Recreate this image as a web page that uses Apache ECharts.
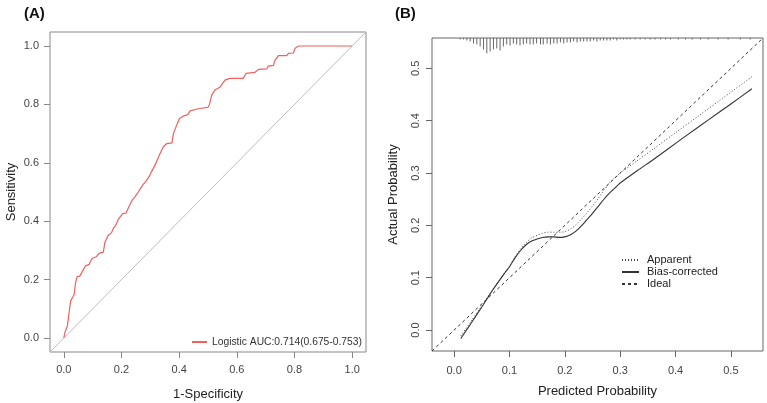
<!DOCTYPE html>
<html>
<head>
<meta charset="utf-8">
<script src="https://cdn.jsdelivr.net/npm/echarts@6/dist/echarts.min.js"></script>
<style>
html,body{margin:0;padding:0;background:#fff;}
#main{width:767px;height:403px;}
</style>
</head>
<body>
<div id="main"></div>
<script>
// (A) ROC curve, [1-specificity, sensitivity]
let roc_points = [
  [0,0],[0.004,0.02],[0.012,0.04],[0.016,0.07],[0.02,0.10],[0.024,0.128],[0.032,0.142],[0.036,0.15],
  [0.04,0.185],[0.046,0.21],[0.055,0.212],[0.061,0.222],[0.068,0.235],[0.075,0.247],[0.088,0.252],
  [0.092,0.262],[0.098,0.272],[0.112,0.278],[0.122,0.29],[0.137,0.294],[0.142,0.326],[0.154,0.352],
  [0.165,0.36],[0.172,0.376],[0.18,0.386],[0.19,0.408],[0.204,0.426],[0.216,0.428],[0.226,0.45],
  [0.237,0.472],[0.248,0.485],[0.258,0.5],[0.272,0.522],[0.287,0.54],[0.297,0.555],[0.304,0.569],
  [0.316,0.592],[0.331,0.626],[0.345,0.655],[0.357,0.666],[0.375,0.668],[0.38,0.70],[0.389,0.723],
  [0.401,0.752],[0.414,0.76],[0.43,0.765],[0.438,0.778],[0.47,0.786],[0.50,0.79],[0.505,0.80],
  [0.513,0.832],[0.524,0.849],[0.542,0.86],[0.559,0.883],[0.576,0.889],[0.622,0.889],[0.632,0.906],
  [0.663,0.910],[0.675,0.92],[0.704,0.922],[0.709,0.931],[0.727,0.934],[0.733,0.952],[0.744,0.967],
  [0.773,0.967],[0.779,0.975],[0.796,0.976],[0.802,0.992],[0.814,1.0],[1.0,1.0]
];
let roc_name = 'Logistic AUC:0.714(0.675-0.753)';
let roc_ticks = [0, 0.2, 0.4, 0.6, 0.8, 1.0];
let roc_range = [-0.048, 1.048];

// (B) calibration curves, [predicted, actual]
let apparent = [
  [0.012,-0.011],[0.03,0.016],[0.05,0.047],[0.07,0.078],[0.09,0.108],[0.10,0.122],[0.11,0.140],
  [0.12,0.155],[0.13,0.167],[0.14,0.176],[0.15,0.181],[0.16,0.185],[0.17,0.187],[0.18,0.187],
  [0.19,0.187],[0.20,0.188],[0.21,0.193],[0.22,0.201],[0.23,0.212],[0.24,0.224],[0.25,0.237],
  [0.26,0.251],[0.27,0.266],[0.28,0.280],[0.29,0.291],[0.30,0.300],[0.33,0.323],[0.36,0.346],
  [0.40,0.377],[0.44,0.408],[0.48,0.439],[0.538,0.484]
];
let bias_corrected = [
  [0.012,-0.016],[0.03,0.012],[0.05,0.044],[0.07,0.077],[0.09,0.107],[0.10,0.121],[0.11,0.138],
  [0.12,0.152],[0.13,0.163],[0.14,0.170],[0.15,0.174],[0.16,0.177],[0.17,0.178],[0.18,0.178],
  [0.19,0.177],[0.20,0.178],[0.21,0.182],[0.22,0.189],[0.23,0.199],[0.24,0.211],[0.25,0.223],
  [0.26,0.236],[0.27,0.249],[0.28,0.261],[0.29,0.271],[0.30,0.281],[0.33,0.304],[0.36,0.326],
  [0.385,0.345],[0.42,0.372],[0.46,0.402],[0.50,0.432],[0.538,0.461]
];
// rug of predicted probabilities: [x, relative frequency]
let rug = [
  [0.011,1],[0.017,1],[0.023,2],[0.029,3],[0.035,5],[0.041,6],[0.047,8],[0.053,11],[0.059,15],
  [0.065,13],[0.071,11],[0.077,10],[0.083,12],[0.089,8],[0.095,6],[0.101,7],[0.107,5],[0.113,6],
  [0.119,7],[0.125,6],[0.131,5],[0.137,6],[0.143,6],[0.149,5],[0.156,6],[0.161,6],[0.168,5],
  [0.174,6],[0.180,5],[0.186,5],[0.192,4],[0.198,5],[0.204,4],[0.210,4],[0.216,3],[0.222,4],
  [0.228,3],[0.234,3],[0.240,3],[0.246,3],[0.252,2],[0.258,3],[0.264,2],[0.270,2],[0.276,2],
  [0.282,2],[0.288,1],[0.294,2],[0.300,1],[0.306,1],[0.312,1],[0.318,1],[0.327,1],[0.336,1],
  [0.345,1],[0.354,1],[0.363,1],[0.373,1],[0.382,1],[0.391,1],[0.405,1],[0.418,1],[0.430,1],
  [0.445,1],[0.459,1],[0.477,1],[0.495,1],[0.517,1],[0.535,1]
];
let cal_ticks = [0, 0.1, 0.2, 0.3, 0.4, 0.5];
let cal_range = [-0.04, 0.558];

const font = 'Liberation Sans, Arial, sans-serif';
const rugScale = 0.0019;

function axisBase(ticks, range, color, margin) {
  return {
    type: 'value',
    min: range[0],
    max: range[1],
    splitLine: { show: false },
    axisLine: { show: false, onZero: false },
    axisTick: { show: true, inside: false, length: 6, customValues: ticks, lineStyle: { color: color } },
    axisLabel: { customValues: ticks, color: '#444', fontSize: 11, fontFamily: font, margin: margin,
      formatter: v => v.toFixed(1) },
    nameLocation: 'middle',
    nameTextStyle: { color: '#222', fontSize: 13, fontFamily: font }
  };
}

const noSymbol = { color: 'rgba(0,0,0,0)', borderColor: 'rgba(0,0,0,0)', borderWidth: 0 };

let chart = echarts.init(document.getElementById('main'));
let option = {
  animation: false,
  title: [
    { text: '(A)', left: 19, top: 1, textStyle: { fontSize: 15, fontWeight: 'bold', color: '#111', fontFamily: font } },
    { text: '(B)', left: 390, top: 1, textStyle: { fontSize: 15, fontWeight: 'bold', color: '#111', fontFamily: font } }
  ],
  grid: [
    { left: 50, top: 32, width: 316, height: 320, show: true, borderColor: '#888', borderWidth: 1, outerBoundsMode: 'none' },
    { left: 432, top: 38, width: 331, height: 313, show: true, borderColor: '#666', borderWidth: 1, outerBoundsMode: 'none' }
  ],
  xAxis: [
    Object.assign(axisBase(roc_ticks, roc_range, '#888', 12), { gridIndex: 0, name: '1-Specificity', nameGap: 36 }),
    Object.assign(axisBase(cal_ticks, cal_range, '#666', 14), { gridIndex: 1, name: 'Predicted Probability', nameGap: 34 })
  ],
  yAxis: [
    Object.assign(axisBase(roc_ticks, roc_range, '#888', 11), { gridIndex: 0, name: 'Sensitivity', nameGap: 32 }),
    (function () {
      let a = Object.assign(axisBase(cal_ticks, cal_range, '#666', 11), { gridIndex: 1, name: 'Actual Probability', nameGap: 32 });
      a.axisLabel.rotate = 90;
      return a;
    })()
  ],
  legend: [
    {
      data: [roc_name], left: 186, top: 332, itemWidth: 15, itemHeight: 10, itemGap: 0,
      itemStyle: noSymbol,
      textStyle: { color: '#333', fontSize: 10.3, fontFamily: font }
    },
    {
      data: ['Apparent', 'Bias-corrected', 'Ideal'], orient: 'vertical', left: 616, top: 249,
      itemWidth: 17, itemHeight: 10, itemGap: 0,
      itemStyle: noSymbol,
      textStyle: { color: '#222', fontSize: 11, lineHeight: 12, fontFamily: font, padding: [0, 0, 0, 3] }
    }
  ],
  series: [
    {
      type: 'line', xAxisIndex: 0, yAxisIndex: 0, silent: true, symbol: 'none',
      data: [[roc_range[0], roc_range[0]], [roc_range[1], roc_range[1]]],
      lineStyle: { color: '#bdbdbd', width: 1 }
    },
    {
      name: roc_name, type: 'line', xAxisIndex: 0, yAxisIndex: 0, symbol: 'none',
      data: roc_points, lineStyle: { color: '#F0605C', width: 1.2 }, itemStyle: { color: '#F0605C' }
    },
    {
      name: 'Apparent', type: 'line', xAxisIndex: 1, yAxisIndex: 1, symbol: 'none', smooth: 0.3,
      data: apparent, lineStyle: { color: '#444', width: 1, type: [1, 2] }, itemStyle: { color: '#444' }
    },
    {
      name: 'Bias-corrected', type: 'line', xAxisIndex: 1, yAxisIndex: 1, symbol: 'none', smooth: 0.3,
      data: bias_corrected, lineStyle: { color: '#333', width: 1.1 }, itemStyle: { color: '#333' }
    },
    {
      name: 'Ideal', type: 'line', xAxisIndex: 1, yAxisIndex: 1, symbol: 'none',
      data: [[cal_range[0], cal_range[0]], [cal_range[1], cal_range[1]]],
      lineStyle: { color: '#333', width: 1, type: [3, 3] }, itemStyle: { color: '#333' }
    },
    {
      type: 'custom', xAxisIndex: 1, yAxisIndex: 1, silent: true,
      data: rug,
      renderItem: function (params, api) {
        let x = api.value(0), n = api.value(1);
        let p1 = api.coord([x, cal_range[1]]);
        let p2 = api.coord([x, cal_range[1] - n * rugScale]);
        return {
          type: 'line',
          shape: { x1: p1[0], y1: p1[1], x2: p2[0], y2: p2[1] + 0.5 },
          style: { stroke: '#666', lineWidth: 1 }
        };
      }
    }
  ]
};
chart.setOption(option);
</script>
</body>
</html>
